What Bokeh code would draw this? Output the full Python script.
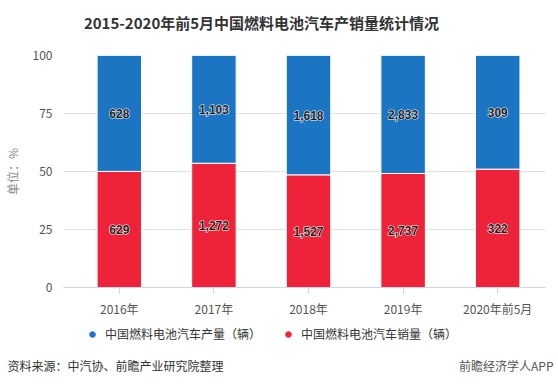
from bokeh.plotting import figure
from bokeh.layouts import column
from bokeh.models import ColumnDataSource, FixedTicker, Label, Legend, LegendItem, Range1d
from bokeh.core.properties import value
from bokeh.embed import file_html
from bokeh.resources import INLINE

categories = ["2016年", "2017年", "2018年", "2019年", "2020年前5月"]
production = [628, 1103, 1618, 2833, 309]
sales = [629, 1272, 1527, 2737, 322]
y_ticks = [0, 25, 50, 75, 100]

title_text = "2015-2020年前5月中国燃料电池汽车产销量统计情况"
series_names = ["中国燃料电池汽车产量（辆）", "中国燃料电池汽车销量（辆）"]
source_text = "资料来源：中汽协、前瞻产业研究院整理"
brand_text = "前瞻经济学人APP"

BLUE = "#1b75c3"
RED = "#ee2238"
FONT = "Noto Sans CJK SC"
W = 556

xs = list(range(len(categories)))
tot = [a + b for a, b in zip(production, sales)]
sales_pct = [s / t * 100 for s, t in zip(sales, tot)]
prod_pct = [p / t * 100 for p, t in zip(production, tot)]

src = ColumnDataSource(dict(
    x=xs, sales=sales_pct, prod=prod_pct,
    sales_mid=[v / 2 for v in sales_pct],
    prod_mid=[s + p / 2 for s, p in zip(sales_pct, prod_pct)],
    sales_lbl=[f"{v:,}" for v in sales],
    prod_lbl=[f"{v:,}" for v in production],
))


def blank(h):
    f = figure(width=W, height=h, output_backend="svg", toolbar_location=None,
               x_axis_type=None, y_axis_type=None, frame_align=False,
               x_range=Range1d(0, W), y_range=Range1d(0, h), min_border=0)
    f.grid.grid_line_color = None
    f.outline_line_color = None
    return f


# ---- header (title)
head = blank(40)
head.add_layout(Label(x=261, y=18, x_units="screen", y_units="screen", text=title_text,
                      text_align="center", text_baseline="middle", text_font=FONT,
                      text_font_size="15px", text_font_style="bold", text_color="#333333"))

# ---- main chart
p = figure(width=W, height=280, output_backend="svg", toolbar_location=None, frame_align=False,
           x_range=Range1d(-0.59, 4.505), y_range=Range1d(0, 100),
           min_border_left=61, min_border_right=11, min_border_top=15, min_border_bottom=33)
p.outline_line_color = None
p.background_fill_color = "white"

p.vbar_stack(["sales", "prod"], x="x", width=0.47, color=[RED, BLUE], line_color="white",
             line_width=1, source=src)

for ycol, lcol in (("sales_mid", "sales_lbl"), ("prod_mid", "prod_lbl")):
    p.text(x="x", y=ycol, text=lcol, source=src, text_align="center", text_baseline="middle",
           text_font=value("Liberation Sans"), text_font_size="12px", text_font_style="bold",
           text_color="white", text_outline_color="white")
    p.text(x="x", y=ycol, text=lcol, source=src, text_align="center", text_baseline="middle",
           text_font=value("Liberation Sans"), text_font_size="12px", text_font_style="bold",
           text_color="#1a1a1a")

p.xaxis.ticker = FixedTicker(ticks=xs)
p.xaxis.major_label_overrides = {i: c for i, c in zip(xs, categories)}
p.xaxis.axis_line_color = "#ccd6eb"
p.xaxis.major_tick_line_color = "#ccd6eb"
p.xaxis.major_tick_out = 6
p.xaxis.major_tick_in = 0
p.xaxis.minor_tick_line_color = None
p.xaxis.major_label_text_font = FONT
p.xaxis.major_label_text_font_size = "12px"
p.xaxis.major_label_text_color = "#555555"
p.xaxis.major_label_standoff = 6
p.xgrid.grid_line_color = None

p.yaxis.ticker = FixedTicker(ticks=y_ticks)
p.yaxis.axis_line_color = None
p.yaxis.major_tick_line_color = None
p.yaxis.minor_tick_line_color = None
p.yaxis.major_label_text_font = FONT
p.yaxis.major_label_text_font_size = "12px"
p.yaxis.major_label_text_color = "#555555"
p.yaxis.major_label_standoff = 5
p.yaxis.axis_label = "单位：%"
p.yaxis.axis_label_text_font = FONT
p.yaxis.axis_label_text_font_size = "12px"
p.yaxis.axis_label_text_font_style = "normal"
p.yaxis.axis_label_text_color = "#888888"
p.yaxis.axis_label_standoff = 9
p.ygrid.grid_line_color = "#e0e0e0"

# ---- footer (legend + source)
foot = blank(58)
nan = float("nan")
r_blue = foot.scatter(x=[nan], y=[nan], size=12, color=BLUE)
r_red = foot.scatter(x=[nan], y=[nan], size=12, color=RED)
legend = Legend(items=[LegendItem(label=series_names[0], renderers=[r_blue]),
                       LegendItem(label=series_names[1], renderers=[r_red])],
                orientation="horizontal", location=(85, 36),
                label_text_font=FONT, label_text_font_size="12px", label_text_color="#333333",
                glyph_width=14, glyph_height=14, label_standoff=6, spacing=20,
                padding=0, margin=0, border_line_color=None, background_fill_alpha=0)
foot.add_layout(legend, "center")
foot.add_layout(Label(x=7, y=13, x_units="screen", y_units="screen", text=source_text,
                      text_align="left", text_baseline="middle", text_font=FONT,
                      text_font_size="12px", text_color="#333333"))
foot.add_layout(Label(x=553, y=13, x_units="screen", y_units="screen", text=brand_text,
                      text_align="right", text_baseline="middle", text_font=FONT,
                      text_font_size="12px", text_color="#555555"))

layout = column(head, p, foot, spacing=0)
open("out.html", "w").write(file_html(layout, INLINE))
